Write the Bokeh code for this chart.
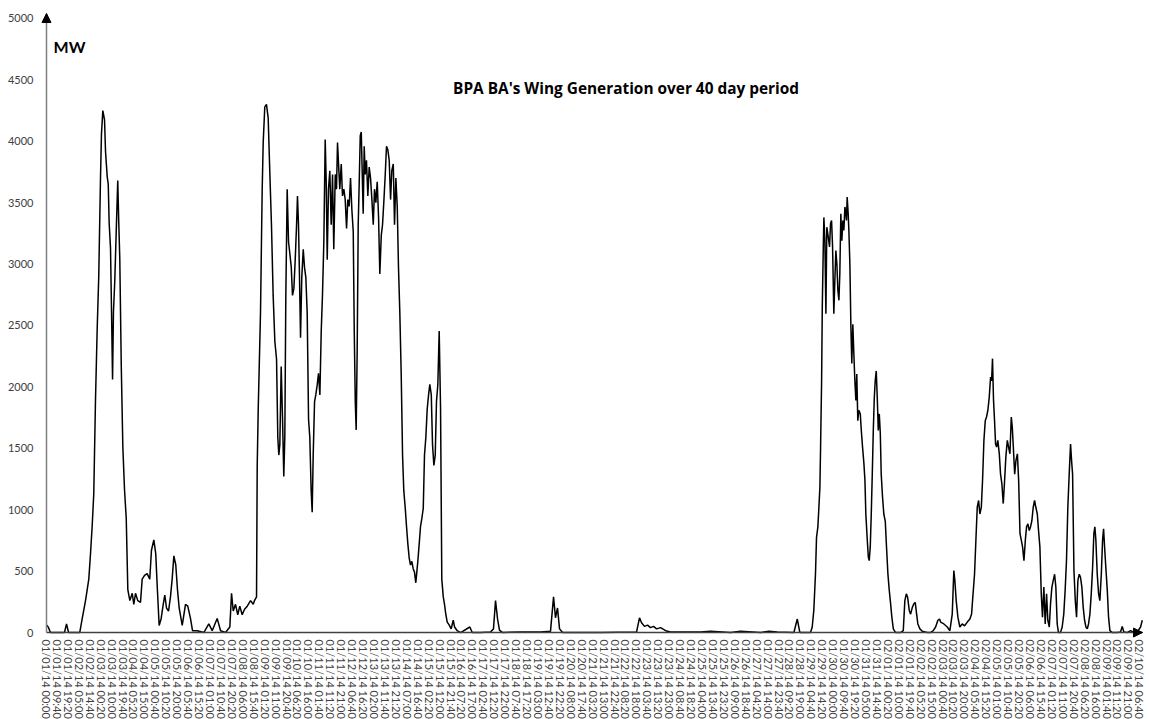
import math
from bokeh.plotting import figure
from bokeh.models import FixedTicker, Range1d, Label, Arrow, NormalHead
from bokeh.embed import file_html
from bokeh.resources import INLINE

# time since 01/01/14 00:00, in hours
hours = [
    0.4, 1.8, 3.5, 15.9, 17.7, 19.5, 29.4, 31.6, 34.5, 37.4, 38.9, 40.4, 41.8, 43.3, 44.8, 46.2,
    47.7, 48.6, 49.8, 51.3, 52.2, 53.7, 54.6, 55.4, 56.6, 57.5, 58.4, 59.2, 60.4, 61.6, 63.0, 63.9,
    64.8, 66.1, 67.5, 69.0, 70.5, 71.9, 73.7, 75.8, 77.2, 78.7, 80.7, 83.1, 84.6, 86.7, 89.0, 91.3,
    92.8, 94.9, 96.6, 97.9, 99.6, 101.4, 103.2, 104.6, 106.1, 107.9, 109.6, 111.1, 112.6, 114.3, 115.8, 117.3,
    120.0, 122.9, 124.9, 127.3, 129.1, 133.2, 139.1, 143.5, 146.5, 150.9, 153.9, 158.3, 162.1, 163.6, 165.1, 167.1,
    169.1, 170.9, 173.0, 175.1, 177.5, 180.4, 182.8, 183.9,
    185.7, 186.3, 187.2, 189.2, 190.7, 191.6, 193.0, 194.5, 196.0, 197.4, 198.9, 200.4, 201.9, 203.4, 204.5, 205.4,
    206.3, 207.5, 208.7, 209.8, 210.7, 211.6, 212.8, 214.0, 215.1, 216.4, 217.5, 218.7, 219.9, 221.1, 221.9, 222.8,
    223.7, 224.6, 225.7, 227.0, 228.1, 229.3, 230.5, 231.7, 232.8, 234.0, 234.9, 235.8, 237.0, 238.1, 239.4, 240.5,
    241.7, 242.9, 244.0, 245.2, 246.4, 247.3, 248.2, 249.3, 250.5, 251.7, 252.9, 254.0, 255.3, 256.4, 257.3, 258.5,
    259.3, 260.6, 261.7, 262.9, 264.1, 265.3, 266.4, 267.6, 268.8, 270.0, 271.2, 272.1, 273.0, 273.8, 274.7, 275.6,
    276.5, 277.4, 278.3, 279.1, 280.0, 280.9, 281.8, 282.9, 284.1, 285.3, 286.5, 287.7, 288.9, 290.0, 291.2, 292.4,
    293.6, 294.7, 296.0, 297.1, 298.2, 299.5, 300.6, 301.8, 303.0, 304.2, 305.3, 306.6, 307.7, 308.9, 310.1, 311.2,
    312.4, 313.6, 314.8, 315.9, 317.2, 318.3, 319.5, 320.7, 321.8, 323.0, 324.2, 325.4, 326.5, 327.4, 328.3, 329.5,
    330.7, 331.8, 333.1, 334.2, 335.4, 336.6, 337.8, 338.9, 340.2, 341.3, 342.5, 343.7, 344.8, 346.0, 347.2, 348.4,
    349.5, 350.8, 351.9, 353.1, 354.3, 356.1, 357.8, 359.6, 360.8, 363.1, 366.1, 374.3, 376.4,
    383.7, 392.6, 395.2, 397.0, 398.8, 400.5, 403.2, 419.1, 436.8, 445.6, 448.3, 450.0, 451.8, 453.6, 456.3, 489.8,
    521.7, 524.3, 526.1, 528.7, 531.4, 534.0, 536.7, 539.4, 542.9, 547.4, 551.7, 578.2, 587.1, 604.8, 613.6, 631.3,
    638.7, 646.1, 660.8, 663.8, 666.1, 675.5, 677.0, 678.4, 679.9, 680.8, 682.0, 682.9, 683.8, 684.4, 685.3, 685.9,
    686.8, 687.3, 688.2, 689.1, 689.9, 691.2, 692.3, 693.2, 694.1, 695.0, 696.1, 697.0, 697.9, 698.8, 699.7, 700.6,
    701.4, 702.3, 703.2, 704.1, 705.0, 705.9, 706.7, 707.3, 707.9, 708.8, 709.4, 710.3, 711.2, 712.0, 712.9, 713.8,
    714.7, 715.6, 716.4, 717.3, 718.2, 719.5, 720.4, 721.5, 722.7, 723.6, 724.4, 725.7, 726.6, 727.4, 728.3, 729.2,
    730.1, 731.0, 731.9, 732.7, 733.6, 734.5, 735.4, 736.3, 737.2, 738.0, 739.2, 740.3, 741.6, 742.7, 743.9, 745.1,
    746.3, 747.4, 748.7, 750.7, 755.1, 757.5, 758.9, 760.2, 761.3, 762.8, 764.0, 765.5, 766.9, 768.1, 769.3, 770.4,
    772.2, 774.3, 778.7, 781.6, 784.0, 786.1, 788.1, 789.6,
    790.5, 793.4, 796.4, 798.7, 800.8, 802.2, 803.1, 804.3, 805.8, 807.5, 809.6, 811.7, 814.1, 816.4, 817.9, 819.0,
    820.5, 821.7, 822.9, 824.1, 825.2, 826.5, 827.6, 828.8, 830.0, 831.1, 832.3, 833.5, 834.7, 835.6, 836.4, 837.3,
    838.2, 839.1, 840.0, 841.1, 842.4, 843.5, 844.7, 845.9, 847.1, 848.2, 849.5, 850.6, 851.8, 853.0, 853.9, 854.8,
    856.0, 857.1, 858.4, 859.5, 860.7, 861.9, 863.0, 864.2, 865.4, 866.5, 867.7, 868.9, 870.0, 871.2, 872.4, 873.6,
    874.7, 876.0, 877.1, 878.3, 879.5, 880.6, 881.8, 883.0, 884.2, 885.3, 886.6, 887.7, 888.9, 890.1, 891.3, 892.4,
    893.6, 894.7, 896.5, 898.0, 899.4, 900.6, 901.8, 903.0, 904.2, 905.4, 906.3, 907.2, 908.4, 909.6, 910.7, 911.9,
    913.1, 914.2, 915.4, 916.6, 917.8, 919.0, 920.2, 921.3, 922.5, 923.7, 924.9, 926.0, 926.9, 927.8, 929.0, 930.2,
    931.3, 932.6, 933.7, 934.6, 935.5, 936.6, 937.9, 939.0, 940.2, 942.3, 946.7, 949.6, 951.1, 952.5, 955.4, 958.5,
    961.5, 964.5, 967.3, 968.8,
]

# wind generation, MW
mw = [
    60, 40, 0, 0, 70, 0, 0, 115, 260, 435, 640, 870, 1130, 1885, 2465, 2900,
    3680, 4060, 4250, 4175, 3915, 3710, 3650, 3335, 3130, 2610, 2060, 2610, 2870, 3250, 3680, 3335,
    3045, 2175, 1510, 1160, 930, 350, 260, 320, 230, 320, 260, 245, 435, 465, 480, 435,
    670, 755, 640, 377, 58, 115, 230, 305, 200, 175, 290, 435, 625, 550, 350, 200,
    58, 230, 215, 115, 15, 15, 0, 70, 15, 115, 15, 0, 45, 320, 175, 230,
    145, 215, 145, 190, 215, 260, 230, 260,
    290, 1360, 1820, 2600, 3610, 3990, 4280, 4300, 4190, 3760, 3320, 2745, 2370, 2225, 1590, 1445,
    1530, 2165, 1735, 1270, 1590, 2745, 3610, 3180, 3090, 2975, 2745, 2800, 3035, 3320, 3555, 3320,
    2890, 2400, 2890, 3120, 2975, 2890, 2600, 1735, 1590, 1155, 980, 1445, 1880, 1935, 2020, 2110,
    1935, 2455, 2745, 3180, 4015, 3670, 3035, 3610, 3760, 3320, 3730, 3120, 3730, 3610, 3990, 3760,
    3610, 3815, 3555, 3610, 3525, 3290, 3525, 3470, 3700, 3440, 3265, 2455, 1880, 1650, 2310, 3320,
    3670, 4045, 4075, 3760, 3410, 3960, 3730, 3845, 3555, 3790, 3700, 3525, 3320, 3610, 3500, 3670,
    3380, 2920, 3235, 3320, 3500, 3730, 3960, 3930, 3845, 3525, 3760, 3815, 3320, 3700, 3470, 2975,
    2600, 2110, 1445, 1155, 1010, 865, 720, 605, 550, 580, 520, 490, 405, 490, 580, 720,
    865, 925, 1010, 1445, 1590, 1820, 1935, 2020, 1935, 1530, 1360, 1445, 1880, 2020, 2455, 1820,
    435, 290, 230, 145, 85, 60, 30, 100, 45, 15, 0, 45, 0,
    0, 5, 30, 260, 110, 20, 0, 5, 5, 10, 290, 120, 200, 30, 0, 0,
    5, 120, 80, 50, 60, 40, 50, 30, 40, 15, 5, 5, 10, 0, 10, 0,
    10, 5, 0, 110, 0, 0, 45, 180, 480, 775, 860, 1020, 1185, 1510, 2050, 2650,
    3140, 3380, 3190, 2595, 3300, 3220, 3140, 3330, 3355, 3140, 2595, 2865, 3110, 3000, 2785, 2705,
    2920, 3410, 3190, 3355, 3275, 3465, 3410, 3355, 3545, 3410, 3275, 3000, 2485, 2190, 2510, 2270,
    2050, 1890, 2105, 1725, 1810, 1780, 1645, 1510, 1375, 1240, 965, 750, 615, 585, 695, 965,
    1290, 1645, 1915, 2050, 2130, 1915, 1645, 1780, 1620, 1290, 1100, 965, 905, 695, 480, 345,
    235, 125, 30, 0, 0, 15, 260, 315, 290, 180, 150, 205, 235, 245, 150, 70,
    30, 10, 0, 0, 15, 45, 100, 110,
    85, 70, 45, 15, 150, 505, 425, 260, 125, 45, 70, 55, 85, 110, 150, 290,
    475, 750, 1020, 1075, 965, 1020, 1240, 1565, 1725, 1755, 1810, 1915, 2080, 2050, 2230, 1890,
    1725, 1535, 1510, 1565, 1455, 1290, 1210, 1050, 1240, 1430, 1565, 1510, 1455, 1755, 1670, 1510,
    1290, 1400, 1455, 1240, 805, 750, 695, 585, 750, 860, 885, 830, 860, 910, 1020, 1075,
    1020, 965, 830, 695, 315, 125, 370, 70, 315, 100, 45, 235, 370, 425, 475, 370,
    70, 0, 0, 45, 150, 340, 585, 1020, 1290, 1535, 1400, 1290, 505, 260, 125, 425,
    475, 450, 370, 205, 100, 45, 30, 70, 150, 315, 530, 805, 860, 750, 475, 315,
    260, 475, 750, 845, 695, 530, 340, 125, 15, 0, 0, 5, 50, 5, 0, 15,
    0, 5, 45, 100,
]

y_ticks = [0, 500, 1000, 1500, 2000, 2500, 3000, 3500, 4000, 4500, 5000]

# category labels, one every 9 h 40 min (580 minutes)
label_step_minutes = 580
x_labels = [
    "01/01/14 00:00", "01/01/14 09:40", "01/01/14 19:20", "01/02/14 05:00", "01/02/14 14:40",
    "01/03/14 00:20", "01/03/14 10:00", "01/03/14 19:40", "01/04/14 05:20", "01/04/14 15:00",
    "01/05/14 00:40", "01/05/14 10:20", "01/05/14 20:00", "01/06/14 05:40", "01/06/14 15:20",
    "01/07/14 01:00", "01/07/14 10:40", "01/07/14 20:20", "01/08/14 06:00", "01/08/14 15:40",
    "01/09/14 01:20", "01/09/14 11:00", "01/09/14 20:40", "01/10/14 06:20", "01/10/14 16:00",
    "01/11/14 01:40", "01/11/14 11:20", "01/11/14 21:00", "01/12/14 06:40", "01/12/14 16:20",
    "01/13/14 02:00", "01/13/14 11:40", "01/13/14 21:20", "01/14/14 07:00", "01/14/14 16:40",
    "01/15/14 02:20", "01/15/14 12:00", "01/15/14 21:40", "01/16/14 07:20", "01/16/14 17:00",
    "01/17/14 02:40", "01/17/14 12:20", "01/17/14 22:00", "01/18/14 07:40", "01/18/14 17:20",
    "01/19/14 03:00", "01/19/14 12:40", "01/19/14 22:20", "01/20/14 08:00", "01/20/14 17:40",
    "01/21/14 03:20", "01/21/14 13:00", "01/21/14 22:40", "01/22/14 08:20", "01/22/14 18:00",
    "01/23/14 03:40", "01/23/14 13:20", "01/23/14 23:00", "01/24/14 08:40", "01/24/14 18:20",
    "01/25/14 04:00", "01/25/14 13:40", "01/25/14 23:20", "01/26/14 09:00", "01/26/14 18:40",
    "01/27/14 04:20", "01/27/14 14:00", "01/27/14 23:40", "01/28/14 09:20", "01/28/14 19:00",
    "01/29/14 04:40", "01/29/14 14:20", "01/30/14 00:00", "01/30/14 09:40", "01/30/14 19:20",
    "01/31/14 05:00", "01/31/14 14:40", "02/01/14 00:20", "02/01/14 10:00", "02/01/14 19:40",
    "02/02/14 05:20", "02/02/14 15:00", "02/03/14 00:40", "02/03/14 10:20", "02/03/14 20:00",
    "02/04/14 05:40", "02/04/14 15:20", "02/05/14 01:00", "02/05/14 10:40", "02/05/14 20:20",
    "02/06/14 06:00", "02/06/14 15:40", "02/07/14 01:20", "02/07/14 11:00", "02/07/14 20:40",
    "02/08/14 06:20", "02/08/14 16:00", "02/09/14 01:40", "02/09/14 11:20", "02/09/14 21:00",
    "02/10/14 06:40",
]

title_text = "BPA BA's Wing Generation over 40 day period"
y_unit_text = "MW"

# ---- figure ----
minutes = [h * 60 for h in hours]
axis_x_end = 969 * 60      # end of the time axis (arrow tip)
axis_y_end = 5040          # end of the MW axis (arrow tip)

p = figure(width=1149, height=719, output_backend="svg", toolbar_location=None,
           x_range=Range1d(-2440, 58512), y_range=Range1d(-708, 5146),
           min_border_left=0, min_border_right=0, min_border_top=0, min_border_bottom=0)
p.grid.visible = False
p.outline_line_color = None
p.background_fill_color = "white"
p.border_fill_color = "white"

p.line(minutes, mw, line_color="black", line_width=1.5)

tick_pos = [i * label_step_minutes for i in range(len(x_labels))]
p.xaxis.fixed_location = 0
p.xaxis.bounds = (0, axis_x_end)
p.xaxis.ticker = FixedTicker(ticks=tick_pos)
p.xaxis.major_label_overrides = {t: s for t, s in zip(tick_pos, x_labels)}
p.xaxis.major_label_orientation = -math.pi / 2
p.xaxis.major_label_text_font = "Lato"
p.xaxis.major_label_text_font_size = "11px"
p.xaxis.major_label_text_color = "#404040"
p.xaxis.major_label_standoff = 7
p.xaxis.major_tick_out = 0
p.xaxis.major_tick_in = 0
p.xaxis.major_tick_line_color = None
p.xaxis.minor_tick_line_color = None
p.xaxis.axis_line_color = "#404040"
p.xaxis.axis_line_width = 1.5

p.yaxis.fixed_location = 0
p.yaxis.bounds = (0, axis_y_end)
p.yaxis.ticker = FixedTicker(ticks=y_ticks)
p.yaxis.major_label_text_font = "Lato"
p.yaxis.major_label_text_font_size = "11px"
p.yaxis.major_label_text_color = "#404040"
p.yaxis.major_label_standoff = 13
p.yaxis.major_tick_out = 0
p.yaxis.major_tick_in = 0
p.yaxis.major_tick_line_color = None
p.yaxis.minor_tick_line_color = None
p.yaxis.axis_line_color = "#7f7f7f"
p.yaxis.axis_line_width = 1.5

p.add_layout(Arrow(end=NormalHead(size=9, fill_color="black", line_color="black"),
                   x_start=0, y_start=4900, x_end=0, y_end=axis_y_end, line_color=None))
p.add_layout(Arrow(end=NormalHead(size=9, fill_color="black", line_color="black"),
                   x_start=axis_x_end - 1500, y_start=0, x_end=axis_x_end, y_end=0, line_color=None))

p.add_layout(Label(x=512.4 * 60, y=4430, text=title_text, text_font="Open Sans", text_font_style="bold",
                   text_font_size="15.4px", text_align="center", text_baseline="middle",
                   text_color="black"))
p.add_layout(Label(x=6.2 * 60, y=4772, text=y_unit_text, text_font="Lato", text_font_style="bold",
                   text_font_size="16px", text_align="left", text_baseline="middle",
                   text_color="black"))

open("out.html", "w").write(file_html(p, INLINE))
